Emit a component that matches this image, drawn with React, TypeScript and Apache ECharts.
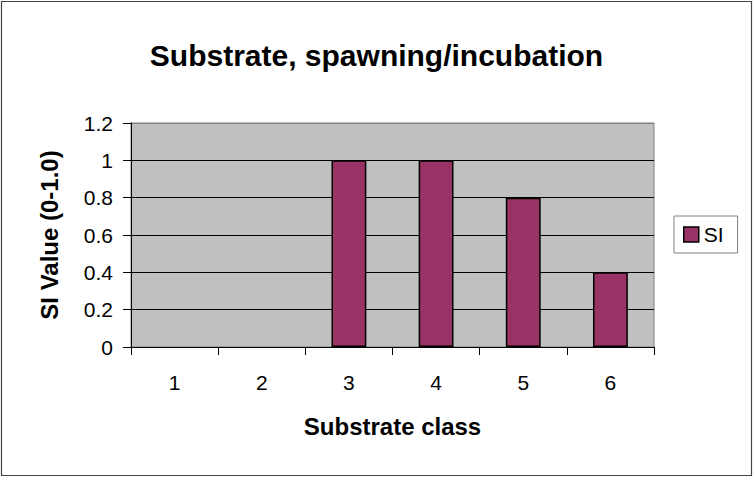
import React, { useEffect, useRef } from "react";
import * as echarts from "echarts";

const categories = ["1", "2", "3", "4", "5", "6"];
const siValues = [0, 0, 1, 1, 0.8, 0.4];
const seriesName = "SI";
const titleText = "Substrate, spawning/incubation";
const xAxisTitle = "Substrate class";
const yAxisTitle = "SI Value (0-1.0)";

const FONT = "Arial, 'Liberation Sans', Helvetica, sans-serif";

export default function App() {
  const ref = useRef<HTMLDivElement>(null);

  useEffect(() => {
    document.body.style.margin = "0";
    if (!ref.current) return;
    const chart = echarts.init(ref.current, undefined, { renderer: "svg" });
    chart.setOption({
      animation: false,
      backgroundColor: "#ffffff",
      title: {
        text: titleText,
        left: "center",
        top: 35,
        textStyle: { fontFamily: FONT, fontSize: 30, fontWeight: "bold", color: "#000" },
      },
      legend: {
        data: [seriesName],
        left: 674,
        top: 216,
        orient: "vertical",
        padding: [8, 14, 8, 9],
        itemWidth: 15,
        itemHeight: 15,
        itemGap: 0,
        backgroundColor: "#ffffff",
        borderColor: "#808080",
        borderWidth: 1,
        borderRadius: 0,
        icon: "rect",
        textStyle: { fontFamily: FONT, fontSize: 21, color: "#000" },
        itemStyle: { borderColor: "#000", borderWidth: 1.5 },
      },
      grid: {
        left: 131,
        top: 123,
        width: 523,
        height: 224,
        show: true,
        backgroundColor: "#C0C0C0",
        borderColor: "#808080",
        borderWidth: 1,
      },
      xAxis: {
        type: "category",
        data: categories,
        boundaryGap: true,
        name: xAxisTitle,
        nameLocation: "middle",
        nameGap: 67,
        nameTextStyle: { fontFamily: FONT, fontSize: 24, fontWeight: "bold", color: "#000" },
        axisLine: { show: true, lineStyle: { color: "#000", width: 1 } },
        axisTick: { show: true, alignWithLabel: false, length: 8, lineStyle: { color: "#000" } },
        axisLabel: { fontFamily: FONT, fontSize: 21, color: "#000", margin: 25 },
        splitLine: { show: false },
      },
      yAxis: {
        type: "value",
        min: 0,
        max: 1.2,
        interval: 0.2,
        name: yAxisTitle,
        nameLocation: "middle",
        nameRotate: 90,
        nameGap: 70,
        nameTextStyle: { fontFamily: FONT, fontSize: 24, fontWeight: "bold", color: "#000" },
        axisLine: { show: true, lineStyle: { color: "#000", width: 1 } },
        axisTick: { show: true, length: 8, lineStyle: { color: "#000" } },
        axisLabel: {
          fontFamily: FONT,
          fontSize: 21,
          color: "#000",
          margin: 18,
          formatter: (v: number) => String(parseFloat(v.toFixed(1))),
        },
        splitLine: {
          show: true,
          lineStyle: {
            color: ["#000", "#000", "#000", "#000", "#000", "#000", "#808080"],
            width: 1,
          },
        },
      },
      series: [
        {
          name: seriesName,
          type: "bar",
          data: siValues.map((v) => ({
            value: v,
            itemStyle: v === 0 ? { borderWidth: 0 } : undefined,
          })),
          barCategoryGap: "60%",
          itemStyle: { color: "#993366", borderColor: "#000", borderWidth: 1.5 },
        },
      ],
      graphic: [
        {
          type: "rect",
          shape: { x: 1.5, y: 1.5, width: 750, height: 474 },
          style: { fill: "none", stroke: "#444", lineWidth: 1.2 },
          silent: true,
          z: 100,
        },
      ],
    });
    return () => chart.dispose();
  }, []);

  return <div ref={ref} style={{ width: 753, height: 477 }} />;
}
